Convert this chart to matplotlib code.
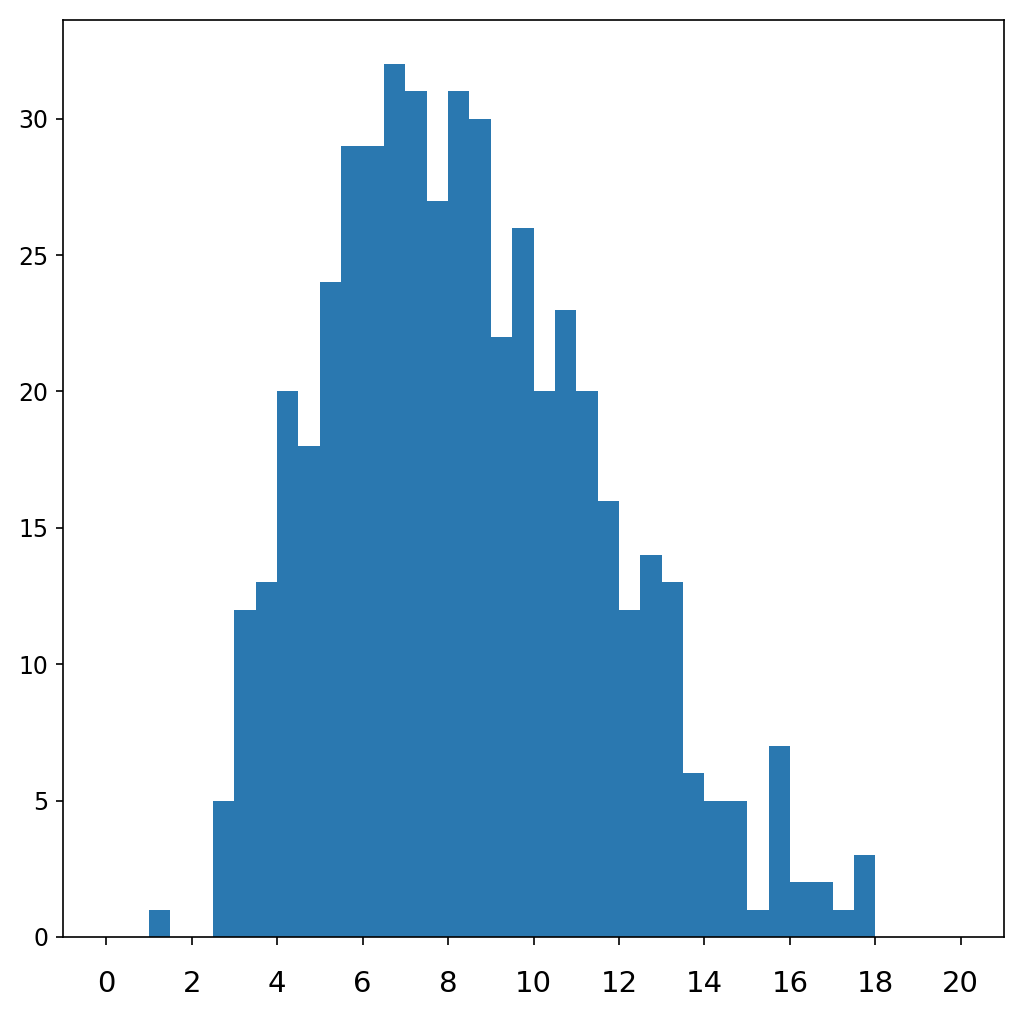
import numpy as np
import matplotlib

matplotlib.use("Agg")
import matplotlib.pyplot as plt

# histogram counts for 0.5-wide bins covering 0..20
bin_width = 0.5
counts = [
    0, 0, 1, 0, 0, 5, 12, 13, 20, 18,
    24, 29, 29, 32, 31, 27, 31, 30, 22, 26,
    20, 23, 20, 16, 12, 14, 13, 6, 5, 5,
    1, 7, 2, 2, 1, 3, 0, 0, 0, 0,
]
x_ticks = [0, 2, 4, 6, 8, 10, 12, 14, 16, 18, 20]

edges = np.arange(len(counts) + 1) * bin_width
lefts = edges[:-1]

fig, ax = plt.subplots(figsize=(10.24, 10.24), dpi=100)
fig.subplots_adjust(left=0.062, right=0.98, top=0.98, bottom=0.085)
ax.hist(lefts, bins=edges, weights=counts, color="#2a78b0")
ax.set_xticks(x_ticks)
ax.tick_params(axis="x", labelsize=21, length=6, width=1.2, pad=18)
ax.tick_params(axis="y", labelsize=17, length=5, width=1.2, pad=6)
for s in ax.spines.values():
    s.set_linewidth(1.2)
fig.savefig("out.png", dpi=100)
plt.close(fig)
